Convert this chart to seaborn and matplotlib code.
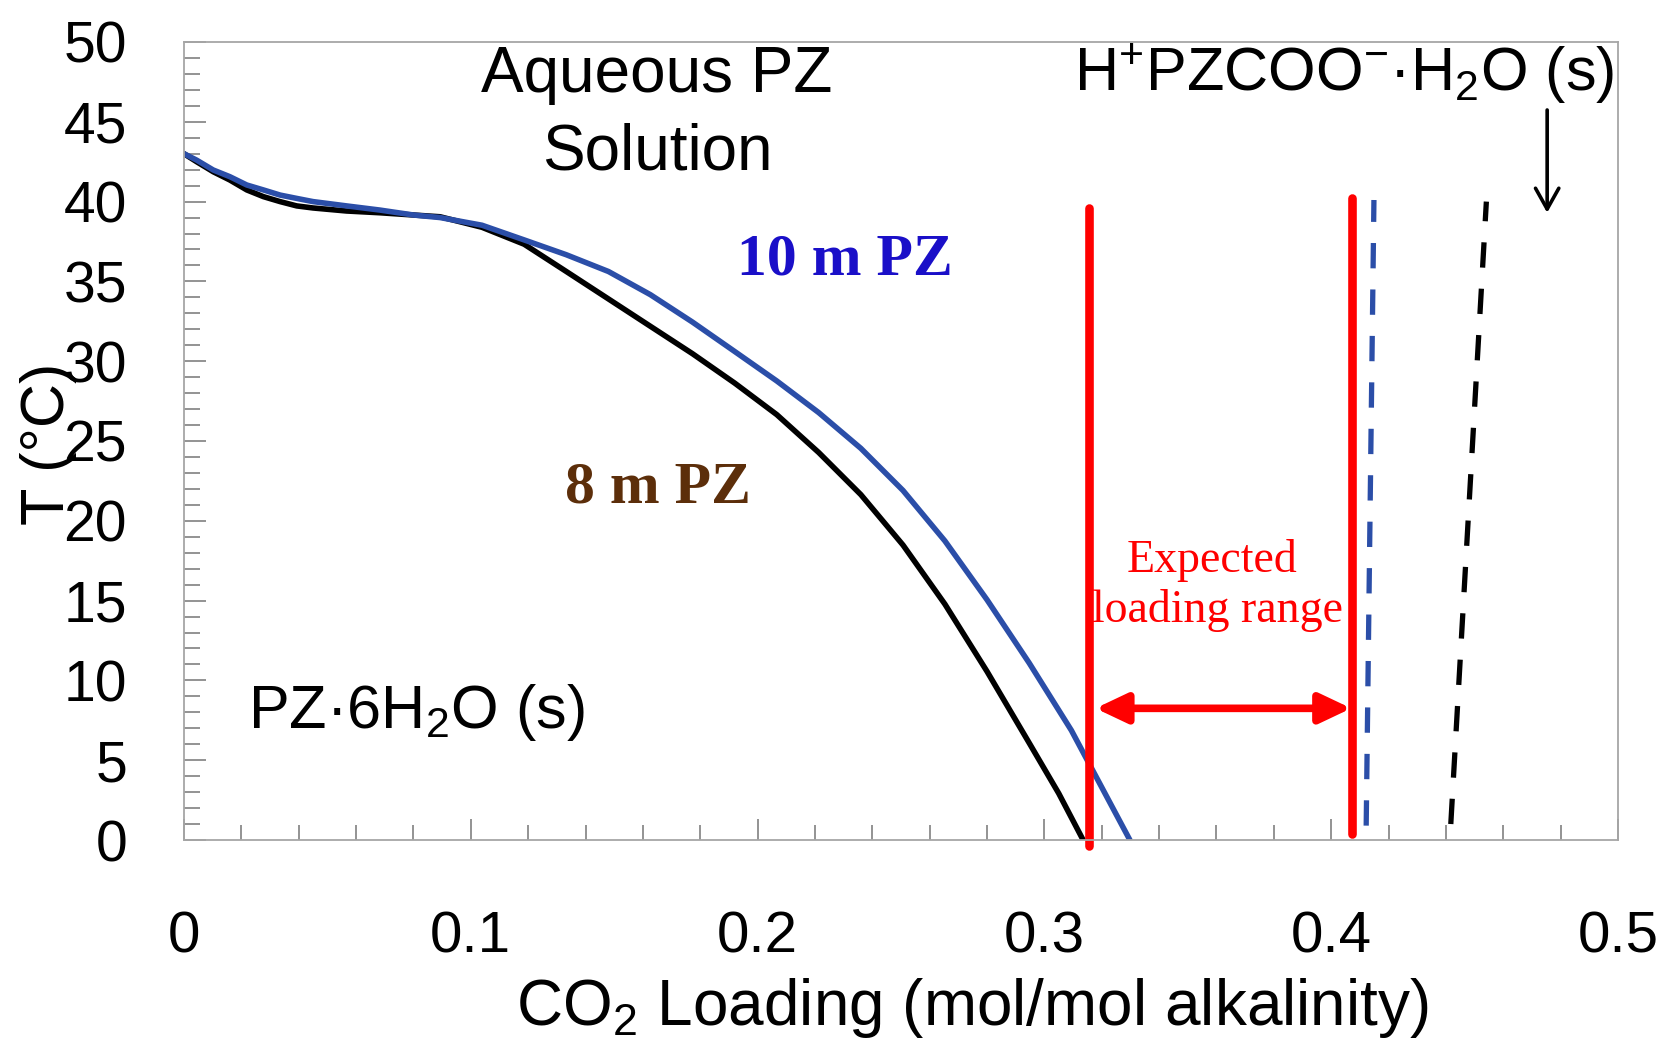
import matplotlib
matplotlib.use("Agg")
import matplotlib.pyplot as plt
import seaborn as sns
from matplotlib.ticker import MultipleLocator, FixedLocator, FixedFormatter

# ---------------- data ----------------
# 8 m PZ solid-liquid boundary (CO2 loading, T in degC)
loading_8m = [0.000, 0.0044, 0.0102, 0.016, 0.0219, 0.0277, 0.0335, 0.0393, 0.045,
              0.0567, 0.0683, 0.080, 0.0893, 0.1039, 0.1186, 0.1333, 0.1480, 0.1626,
              0.1773, 0.1920, 0.2067, 0.2213, 0.2360, 0.2507, 0.2653, 0.2800, 0.2947,
              0.3050, 0.3135]
temp_8m = [43.0, 42.5, 41.87, 41.35, 40.73, 40.31, 40.0, 39.73, 39.6,
           39.41, 39.3, 39.16, 39.05, 38.39, 37.33, 35.62, 33.90, 32.19,
           30.47, 28.63, 26.65, 24.28, 21.64, 18.48, 14.78, 10.56, 6.08,
           2.92, 0.0]

# 10 m PZ solid-liquid boundary
loading_10m = [0.000, 0.0044, 0.0102, 0.016, 0.0219, 0.0277, 0.0335, 0.0393, 0.045,
               0.0567, 0.0683, 0.080, 0.0893, 0.1039, 0.1186, 0.1333, 0.1480, 0.1626,
               0.1773, 0.1920, 0.2067, 0.2213, 0.2360, 0.2507, 0.2653, 0.2800, 0.2947,
               0.3094, 0.3298]
temp_10m = [43.0, 42.6, 41.98, 41.56, 41.04, 40.73, 40.41, 40.2, 40.0,
            39.73, 39.47, 39.16, 39.0, 38.52, 37.6, 36.67, 35.62, 34.17,
            32.45, 30.61, 28.76, 26.78, 24.54, 21.90, 18.74, 15.05, 11.09,
            6.87, 0.0]

# H+PZCOO-.H2O(s) boundaries (dashed)
hydrate_10m_x = [0.4122, 0.4149]
hydrate_10m_y = [0.9, 40.1]
hydrate_8m_x = [0.4417, 0.4541]
hydrate_8m_y = [1.0, 40.0]

# Expected loading range limits (red)
range_low_x = [0.3157, 0.3157]
range_low_y = [-0.4, 39.6]
range_high_x = [0.4074, 0.4074]
range_high_y = [0.4, 40.2]

x_ticks = [0.0, 0.1, 0.2, 0.3, 0.4, 0.5]
x_tick_labels = ["0", "0.1", "0.2", "0.3", "0.4", "0.5"]
y_ticks = [0, 5, 10, 15, 20, 25, 30, 35, 40, 45, 50]
y_tick_labels = [str(v) for v in y_ticks]

# ---------------- style ----------------
sns.set_theme(style="ticks")
plt.rcParams['font.family'] = ['Liberation Sans', 'DejaVu Sans']
plt.rcParams['mathtext.fontset'] = 'custom'
plt.rcParams['mathtext.rm'] = 'Liberation Sans'
plt.rcParams['mathtext.it'] = 'Liberation Sans:italic'
plt.rcParams['mathtext.bf'] = 'Liberation Sans:bold'

BLUE = "#2B4EA8"
RED = "#FF0000"

fig = plt.figure(figsize=(16.66, 10.38), dpi=100, facecolor="white")
ax = fig.add_axes([0.11044, 0.19075, 0.86075, 0.76879])
ax.set_facecolor("white")

sns.lineplot(x=loading_8m, y=temp_8m, ax=ax, color="black", lw=4.0,
             sort=False, estimator=None)
sns.lineplot(x=loading_10m, y=temp_10m, ax=ax, color=BLUE, lw=4.0,
             sort=False, estimator=None)
sns.lineplot(x=hydrate_10m_x, y=hydrate_10m_y, ax=ax, color=BLUE, lw=3.8,
             sort=False, estimator=None, linestyle=(0, (4.8, 4.0)))
sns.lineplot(x=hydrate_8m_x, y=hydrate_8m_y, ax=ax, color="black", lw=3.8,
             sort=False, estimator=None, linestyle=(0, (4.8, 4.0)))
sns.lineplot(x=range_low_x, y=range_low_y, ax=ax, color=RED, lw=6.2,
             sort=False, estimator=None, clip_on=False)
sns.lineplot(x=range_high_x, y=range_high_y, ax=ax, color=RED, lw=6.2,
             sort=False, estimator=None, clip_on=False)

ax.set_xlim(0, 0.5)
ax.set_ylim(0, 50)

ax.xaxis.set_major_locator(FixedLocator(x_ticks))
ax.xaxis.set_major_formatter(FixedFormatter(x_tick_labels))
ax.yaxis.set_major_locator(FixedLocator(y_ticks))
ax.yaxis.set_major_formatter(FixedFormatter(y_tick_labels))
ax.xaxis.set_minor_locator(MultipleLocator(0.02))
ax.yaxis.set_minor_locator(MultipleLocator(1))

ax.tick_params(which="both", direction="in", color="#808080", width=1.2,
               top=False, right=False, labelcolor="black")
ax.tick_params(axis="x", which="major", length=15, pad=51, labelsize=42)
ax.tick_params(axis="x", which="minor", length=11)
ax.tick_params(axis="y", which="major", length=16, pad=41, labelsize=41)
ax.tick_params(axis="y", which="minor", length=11.5)

for s in ax.spines.values():
    s.set_visible(True)
    s.set_color("#a6a6a6")
    s.set_linewidth(1.3)

ax.set_xlabel(r"CO$\mathregular{_2}$ Loading (mol/mol alkalinity)", fontsize=46,
              color="black")
ax.xaxis.set_label_coords(0.55, -0.170)
ax.xaxis.label.set_verticalalignment("top")
ax.set_ylabel("T (°C)", fontsize=44, color="black")
ax.yaxis.set_label_coords(-0.0746, 0.497)

# ---------------- annotations ----------------
ax.text(0.1647, 46.87, "Aqueous PZ", fontsize=46, ha="center", va="baseline",
        color="black")
ax.text(0.1650, 42.04, "Solution", fontsize=46, ha="center", va="baseline",
        color="black")
ax.text(0.4986, 46.95, r"$\mathregular{H^{+}PZCOO^{-}}$·H$\mathregular{_2}$O (s)",
        fontsize=44, ha="right", va="baseline", color="black")
ax.text(0.0223, 7.02, r"PZ·6H$\mathregular{_2}$O (s)", fontsize=44,
        ha="left", va="baseline", color="black")
ax.text(0.2305, 35.46, "10 m PZ", fontsize=43, ha="center", va="baseline",
        family="Liberation Serif", weight="bold", color="#1A0FC8")
ax.text(0.1654, 21.13, "8 m PZ", fontsize=43, ha="center", va="baseline",
        family="Liberation Serif", weight="bold", color="#5C2E0A")
ax.text(0.3586, 16.81, "Expected", fontsize=33, ha="center", va="baseline",
        family="Liberation Serif", color=RED)
ax.text(0.3605, 13.68, "loading range", fontsize=33, ha="center", va="baseline",
        family="Liberation Serif", color=RED)

ax.annotate("", xy=(0.4753, 39.3), xytext=(0.4753, 45.74),
            arrowprops=dict(arrowstyle="->,head_length=0.75,head_width=0.42",
                            lw=2.6, color="black", mutation_scale=20,
                            shrinkA=0, shrinkB=0))
ax.annotate("", xy=(0.4070, 8.25), xytext=(0.3178, 8.25),
            arrowprops=dict(arrowstyle="<|-|>,head_length=0.95,head_width=0.45",
                            lw=5.5, color=RED, mutation_scale=20,
                            shrinkA=0, shrinkB=0))

fig.savefig("out.png", dpi=100, facecolor="white")
